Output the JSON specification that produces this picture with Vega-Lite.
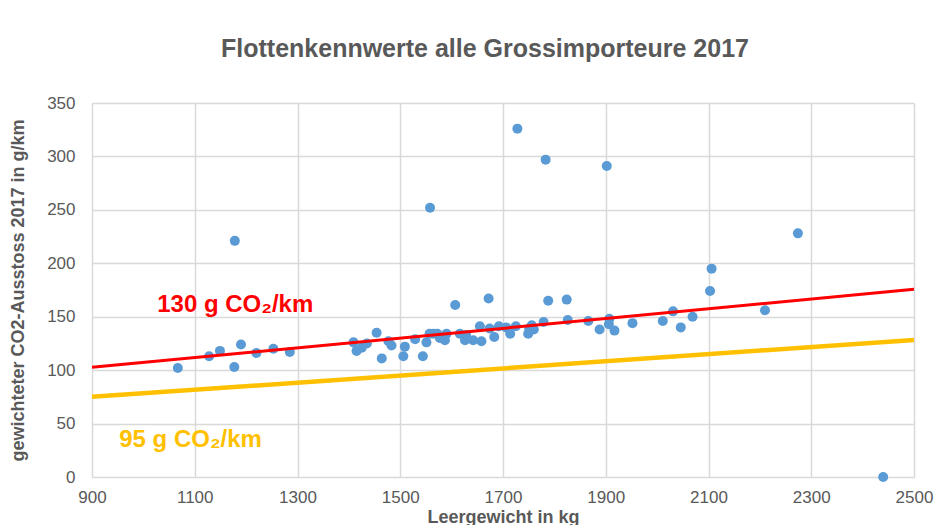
{
  "$schema": "https://vega.github.io/schema/vega-lite/v6.json",
  "autosize": {"type": "none"},
  "width": 822,
  "height": 374,
  "padding": {"left": 92, "top": 103, "right": 33, "bottom": 48},
  "background": "white",
  "config": {
    "view": {"stroke": null},
    "font": "Liberation Sans",
    "axis": {
      "gridColor": "#d9d9d9",
      "gridWidth": 1.5,
      "domain": false,
      "ticks": false,
      "labelColor": "#595959",
      "labelFontSize": 17,
      "labelFont": "Liberation Sans",
      "titleColor": "#595959",
      "titleFontSize": 18,
      "titleFont": "Liberation Sans",
      "titleFontWeight": "bold"
    }
  },
  "title": {
    "text": "Flottenkennwerte alle Grossimporteure 2017",
    "fontSize": 25,
    "fontWeight": "bold",
    "color": "#595959",
    "font": "Liberation Sans",
    "anchor": "middle",
    "dx": -18,
    "offset": 32
  },
  "datasets": {
    "points": [
      {"kg": 1067, "co2": 102}, {"kg": 1128, "co2": 113}, {"kg": 1149, "co2": 118},
      {"kg": 1177, "co2": 103}, {"kg": 1178, "co2": 221}, {"kg": 1190, "co2": 124},
      {"kg": 1220, "co2": 116}, {"kg": 1253, "co2": 120}, {"kg": 1285, "co2": 117},
      {"kg": 1409, "co2": 126}, {"kg": 1415, "co2": 118}, {"kg": 1425, "co2": 121},
      {"kg": 1435, "co2": 125}, {"kg": 1454, "co2": 135}, {"kg": 1464, "co2": 111},
      {"kg": 1477, "co2": 127}, {"kg": 1483, "co2": 123}, {"kg": 1506, "co2": 113},
      {"kg": 1509, "co2": 122}, {"kg": 1529, "co2": 129}, {"kg": 1544, "co2": 113},
      {"kg": 1551, "co2": 126}, {"kg": 1557, "co2": 134}, {"kg": 1558, "co2": 252},
      {"kg": 1564, "co2": 134}, {"kg": 1572, "co2": 134}, {"kg": 1577, "co2": 130},
      {"kg": 1587, "co2": 128}, {"kg": 1590, "co2": 134}, {"kg": 1607, "co2": 161},
      {"kg": 1616, "co2": 134}, {"kg": 1626, "co2": 128}, {"kg": 1628, "co2": 133},
      {"kg": 1642, "co2": 128}, {"kg": 1655, "co2": 141}, {"kg": 1658, "co2": 127},
      {"kg": 1672, "co2": 167}, {"kg": 1674, "co2": 139}, {"kg": 1683, "co2": 131},
      {"kg": 1692, "co2": 141}, {"kg": 1706, "co2": 140}, {"kg": 1714, "co2": 134},
      {"kg": 1725, "co2": 141}, {"kg": 1728, "co2": 326}, {"kg": 1749, "co2": 134},
      {"kg": 1751, "co2": 139}, {"kg": 1756, "co2": 142}, {"kg": 1760, "co2": 138},
      {"kg": 1779, "co2": 145}, {"kg": 1783, "co2": 297}, {"kg": 1788, "co2": 165},
      {"kg": 1824, "co2": 166}, {"kg": 1826, "co2": 147}, {"kg": 1866, "co2": 146},
      {"kg": 1888, "co2": 138}, {"kg": 1902, "co2": 291}, {"kg": 1906, "co2": 143},
      {"kg": 1907, "co2": 148}, {"kg": 1917, "co2": 137}, {"kg": 1952, "co2": 144},
      {"kg": 2011, "co2": 146}, {"kg": 2031, "co2": 155}, {"kg": 2046, "co2": 140},
      {"kg": 2069, "co2": 150}, {"kg": 2103, "co2": 174}, {"kg": 2106, "co2": 195},
      {"kg": 2210, "co2": 156}, {"kg": 2274, "co2": 228}, {"kg": 2440, "co2": 0}
    ],
    "line130": [{"kg": 900, "co2": 102.6}, {"kg": 2500, "co2": 175.7}],
    "line95": [{"kg": 900, "co2": 75}, {"kg": 2500, "co2": 128.3}],
    "label130": [{"kg": 1027, "co2": 161, "label": "130 g CO₂/km"}],
    "label95": [{"kg": 953, "co2": 35, "label": "95 g CO₂/km"}]
  },
  "layer": [
    {
      "data": {"name": "points"},
      "mark": {"type": "circle", "size": 100, "color": "#5b9bd5", "opacity": 1},
      "encoding": {
        "x": {
          "field": "kg", "type": "quantitative",
          "scale": {"domain": [900, 2500], "nice": false, "zero": false},
          "axis": {"values": [900, 1100, 1300, 1500, 1700, 1900, 2100, 2300, 2500], "format": "d", "title": "Leergewicht in kg", "labelPadding": 12, "titlePadding": 3, "labelFlush": false}
        },
        "y": {
          "field": "co2", "type": "quantitative",
          "scale": {"domain": [0, 350], "nice": false},
          "axis": {"values": [0, 50, 100, 150, 200, 250, 300, 350], "title": "gewichteter CO2-Ausstoss 2017 in g/km", "labelPadding": 17, "titlePadding": 19}
        }
      }
    },
    {
      "data": {"name": "line130"},
      "mark": {"type": "line", "color": "#ff0000", "strokeWidth": 3},
      "encoding": {
        "x": {"field": "kg", "type": "quantitative"},
        "y": {"field": "co2", "type": "quantitative"}
      }
    },
    {
      "data": {"name": "line95"},
      "mark": {"type": "line", "color": "#ffc000", "strokeWidth": 4.5},
      "encoding": {
        "x": {"field": "kg", "type": "quantitative"},
        "y": {"field": "co2", "type": "quantitative"}
      }
    },
    {
      "data": {"name": "label130"},
      "mark": {"type": "text", "align": "left", "baseline": "middle", "fontSize": 24, "fontWeight": "bold", "color": "#ff0000", "font": "Liberation Sans"},
      "encoding": {
        "x": {"field": "kg", "type": "quantitative"},
        "y": {"field": "co2", "type": "quantitative"},
        "text": {"field": "label"}
      }
    },
    {
      "data": {"name": "label95"},
      "mark": {"type": "text", "align": "left", "baseline": "middle", "fontSize": 24, "fontWeight": "bold", "color": "#ffc000", "font": "Liberation Sans"},
      "encoding": {
        "x": {"field": "kg", "type": "quantitative"},
        "y": {"field": "co2", "type": "quantitative"},
        "text": {"field": "label"}
      }
    }
  ]
}
